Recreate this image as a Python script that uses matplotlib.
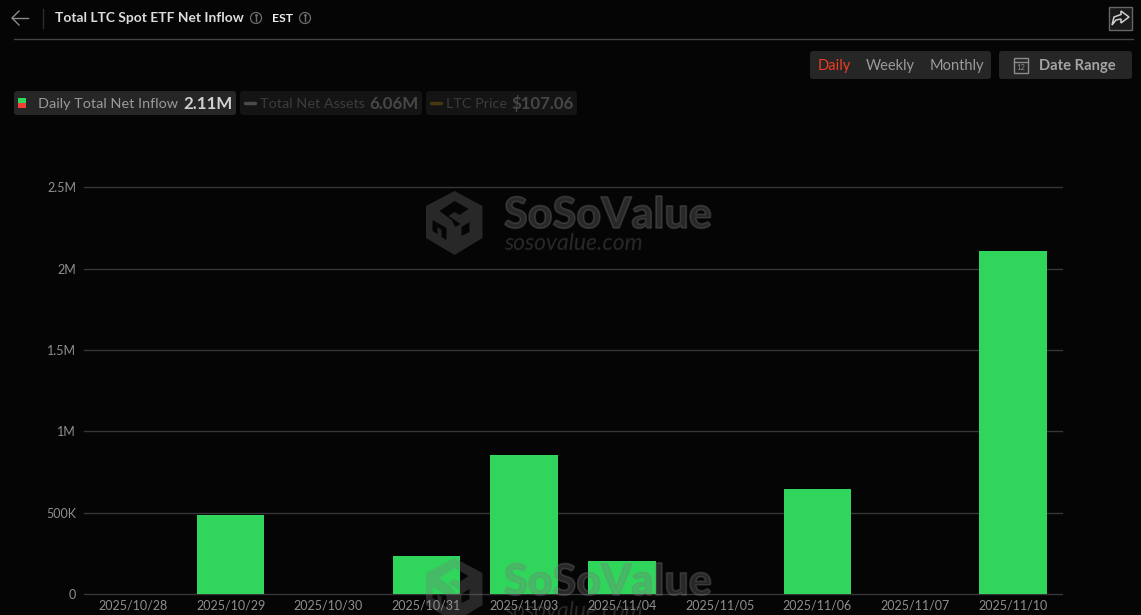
import matplotlib
matplotlib.use("Agg")
import matplotlib.pyplot as plt
import matplotlib.patheffects as pe
from matplotlib.patches import FancyBboxPatch, Polygon, Rectangle, PathPatch
from matplotlib.path import Path

plt.rcParams['font.family'] = ['Lato', 'DejaVu Sans']

W, H = 1141, 615
BG = "#050505"

dates = ["2025/10/28", "2025/10/29", "2025/10/30", "2025/10/31", "2025/11/03",
         "2025/11/04", "2025/11/05", "2025/11/06", "2025/11/07", "2025/11/10"]
inflow = [0, 490000, 0, 235000, 855000, 205000, 0, 645000, 0, 2110000]
y_ticks = [0, 500000, 1000000, 1500000, 2000000, 2500000]
y_labels = ["0", "500K", "1M", "1.5M", "2M", "2.5M"]

fig = plt.figure(figsize=(W / 100, H / 100), dpi=100, facecolor=BG)
rect = [84 / W, 1 - 594.3 / H, 978 / W, 407 / H]

# bars and grid at the bottom
ax = fig.add_axes(rect, facecolor=BG, zorder=1)
ax.bar(range(len(dates)), inflow, width=0.69, color="#2fd65b", zorder=3)
ax.set_xlim(-0.5, 9.5)
ax.set_ylim(0, 2500000)
ax.set_xticks(range(len(dates)))
ax.set_yticks(y_ticks)
ax.tick_params(length=0, labelbottom=False, labelleft=False)
ax.grid(axis="y", color="#363636", linewidth=1, zorder=1)
ax.set_axisbelow(True)
for s in ax.spines.values():
    s.set_visible(False)
for g in ax.get_ygridlines():
    g.set_clip_on(False)

# overlay in pixel coords for watermark and page furniture
ov = fig.add_axes([0, 0, 1, 1], facecolor="none", zorder=2)
ov.set_xlim(0, W)
ov.set_ylim(H, 0)
ov.axis("off")

# tick labels sit above the watermark, so they get their own axes
ax2 = fig.add_axes(rect, facecolor="none", zorder=3)
ax2.set_xlim(-0.5, 9.5)
ax2.set_ylim(0, 2500000)
ax2.set_xticks(range(len(dates)))
ax2.set_xticklabels(dates, fontsize=9, color="#8f8f8f")
ax2.set_yticks(y_ticks)
ax2.set_yticklabels(y_labels, fontsize=9, color="#8f8f8f")
ax2.tick_params(length=0, axis="x", pad=4)
ax2.tick_params(length=0, axis="y", pad=5.8)
for s in ax2.spines.values():
    s.set_visible(False)


def box(x, y, w, h, color, r=3):
    ov.add_patch(FancyBboxPatch((x + r, y + r), w - 2 * r, h - 2 * r,
                                boxstyle="round,pad=%d,rounding_size=%d" % (r, r),
                                fc=color, ec="none"))


def label(x, y, s, size=10, color="#999999", weight="normal", ha="left"):
    ov.text(x, y, s, fontsize=size, color=color, fontweight=weight, ha=ha, va="center")


def info(x, y):
    ov.add_patch(plt.Circle((x, y), 5.5, fc="none", ec="#6e6e6e", lw=0.9))
    ov.plot([x, x], [y - 1, y + 3], color="#6e6e6e", lw=1)
    ov.plot([x], [y - 3], marker="o", ms=1, color="#6e6e6e")


def area(pts):
    return sum(pts[i][0] * pts[(i + 1) % len(pts)][1] - pts[(i + 1) % len(pts)][0] * pts[i][1]
               for i in range(len(pts)))


def watermark(x0, y0):
    # x0, y0 is the top left of the hexagon
    c = "#7a7a7a"
    a = 0.3
    cx = x0 + 28.5
    outer = [(0, 0), (28, 15), (28, 47), (0, 64), (-28.5, 47), (-28.5, 15)]
    holes = [[(-15, 20), (-3, 29), (1, 36), (6, 33), (-6, 25), (0, 21), (5, 24), (14, 18), (0, 10)],
             [(-22, 29), (-8, 37), (-8, 49), (-13, 46), (-13, 39), (-17, 36), (-17, 43), (-22, 40)],
             [(7, 36), (7, 45), (15, 41), (15, 31)]]
    verts = []
    codes = []
    for pts in [outer] + holes:
        # holes have to wind against the outline
        if pts is not outer and area(pts) * area(outer) > 0:
            pts = pts[::-1]
        verts += [(cx + dx, y0 + dy) for dx, dy in pts] + [(cx, y0)]
        codes += [Path.MOVETO] + [Path.LINETO] * (len(pts) - 1) + [Path.CLOSEPOLY]
    ov.add_patch(PathPatch(Path(verts, codes), fc=c, ec="none", alpha=a, zorder=5))
    t = ov.text(x0 + 78, y0 + 24, "SoSoValue", fontsize=31, fontweight="black", color=c,
                alpha=a, va="center", zorder=5)
    t.set_path_effects([pe.Stroke(linewidth=1.2, foreground=c, alpha=a)])
    ov.text(x0 + 78, y0 + 53, "sosovalue.com", fontsize=16.5, style="italic", color=c,
            alpha=a, va="center", zorder=5)


watermark(426, 191)
watermark(426, 558)

# header
ov.plot([19, 12, 19], [11, 18, 25], color="#8a8a8a", lw=1)
ov.plot([12, 28], [18, 18], color="#8a8a8a", lw=1)
ov.plot([42.5, 42.5], [9, 28], color="#2c2c2c", lw=1)
label(55, 18, "Total LTC Spot ETF Net Inflow", 9.9, "#dddddd", "bold")
info(256, 18)
label(272, 18, "EST", 8.8, "#eeeeee", "bold")
info(305, 18)
ov.plot([14, 1133], [38.5, 38.5], color="#424242", lw=1)

# share button
ov.add_patch(Rectangle((1108.5, 6.5), 23, 23, fc="#1a1a1a", ec="#666666", lw=1))
ov.add_patch(Polygon([(1112, 25), (1114, 17), (1121, 14.5), (1121, 11), (1129, 17),
                      (1121, 23), (1121, 19), (1116, 20)],
                     fc="none", ec="#d0d0d0", lw=1.1))

# period + date range
box(810, 51, 181, 28, "#262626")
label(818, 66, "Daily", 10.5, "#ee3d24")
label(866, 66, "Weekly", 10.5, "#9a9a9a")
label(930, 66, "Monthly", 10.5, "#9a9a9a")
box(999, 51, 133, 28, "#262626")
ov.add_patch(Rectangle((1013.5, 57.5), 14, 15, fc="none", ec="#8c8c8c", lw=1))
ov.plot([1013.5, 1027.5], [61.5, 61.5], color="#8c8c8c", lw=1)
ov.text(1020.5, 67, "12", fontsize=5.5, color="#8c8c8c", ha="center", va="center")
label(1039, 66, "Date Range", 10.6, "#a3a3a3", "bold")

# legend chips
box(14, 91, 222, 24, "#262626")
ov.add_patch(Rectangle((18, 98), 8, 5, fc="#2fd65b", ec="none"))
ov.add_patch(Rectangle((18, 103), 8, 5, fc="#ef4136", ec="none"))
label(38, 104, "Daily Total Net Inflow", 10.4, "#9a9a9a")
label(183, 104, "2.11M", 12.2, "#d0d0d0", "bold")
box(240, 91, 182, 24, "#141414")
ov.plot([245, 255], [103, 103], color="#4a4a4a", lw=2.5, solid_capstyle="round")
label(260, 104, "Total Net Assets", 10.4, "#3c3c3c")
label(369, 104, "6.06M", 12.2, "#474747", "bold")
box(426, 91, 151, 24, "#141414")
ov.plot([431, 441], [103, 103], color="#4a3810", lw=2.5, solid_capstyle="round")
label(446, 104, "LTC Price", 10.4, "#3c3c3c")
label(511, 104, "$107.06", 12.1, "#474747", "bold")

fig.savefig("out.png", dpi=100, facecolor=BG)
